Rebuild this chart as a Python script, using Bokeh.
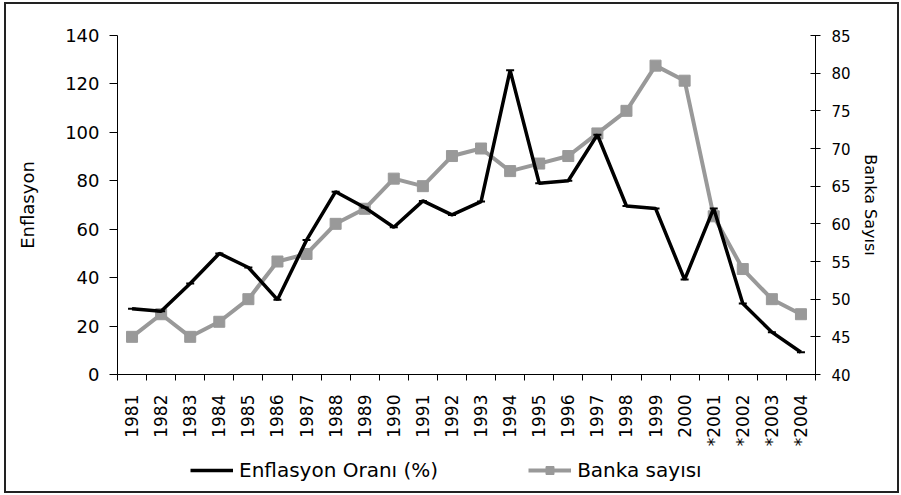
import math
from bokeh.plotting import figure
from bokeh.layouts import column
from bokeh.models import Range1d, LinearAxis, FixedTicker, Legend, LegendItem, ColumnDataSource
from bokeh.embed import file_html
from bokeh.resources import INLINE

years = ["1981", "1982", "1983", "1984", "1985", "1986", "1987", "1988", "1989", "1990",
         "1991", "1992", "1993", "1994", "1995", "1996", "1997", "1998", "1999", "2000",
         "*2001", "*2002", "*2003", "*2004"]
inflation = [27.2, 26.1, 37.6, 50.0, 44.2, 30.9, 55.5, 75.5, 69.0, 60.8,
             71.7, 65.9, 71.4, 125.6, 79.0, 80.0, 99.0, 69.6, 68.6, 39.2,
             68.6, 29.3, 17.5, 9.2]
banks = [45, 48, 45, 47, 50, 55, 56, 60, 62, 66,
         65, 69, 70, 67, 68, 69, 72, 75, 81, 79,
         61, 54, 50, 48]
left_ticks = [0, 20, 40, 60, 80, 100, 120, 140]
right_ticks = [40, 45, 50, 55, 60, 65, 70, 75, 80, 85]
series_names = ["Enflasyon Oranı (%)", "Banka sayısı"]

FONT = "DejaVu Sans"
GRAY = "#999999"
W = 891

n = len(years)
xpos = [i + 0.5 for i in range(n)]
src = ColumnDataSource(dict(x=xpos, infl=inflation, bank=banks))

p = figure(width=W, height=445, output_backend="svg", toolbar_location=None,
           x_range=Range1d(0, n), y_range=Range1d(left_ticks[0], left_ticks[-1]),
           min_border_left=111, min_border_right=82, min_border_top=31, min_border_bottom=75)
p.outline_line_color = None
p.xgrid.visible = False
p.ygrid.visible = False
p.background_fill_color = "white"
p.border_fill_color = "white"

p.extra_y_ranges = {"right": Range1d(right_ticks[0], right_ticks[-1])}

# left axis
ya = p.yaxis[0]
ya.ticker = FixedTicker(ticks=left_ticks)
ya.axis_label = "Enflasyon"
ya.axis_label_text_font = FONT
ya.axis_label_text_font_size = "18px"
ya.axis_label_text_font_style = "normal"
ya.axis_label_text_color = "black"
ya.axis_label_standoff = 24
ya.major_label_text_font = FONT
ya.major_label_text_font_size = "18px"
ya.major_label_text_color = "black"
ya.major_tick_out = 8
ya.major_tick_in = 0
ya.minor_tick_line_color = None
ya.major_label_standoff = 10
ya.axis_line_color = "black"
ya.major_tick_line_color = "black"

# right axis
ra = LinearAxis(y_range_name="right", ticker=FixedTicker(ticks=right_ticks))
ra.axis_label = "Banka Sayısı"
ra.axis_label_text_font = FONT
ra.axis_label_text_font_size = "16px"
ra.axis_label_text_font_style = "normal"
ra.axis_label_text_color = "black"
ra.axis_label_standoff = 7
ra.major_label_text_font = FONT
ra.major_label_text_font_size = "15px"
ra.major_label_text_color = "black"
ra.major_tick_out = 5
ra.major_tick_in = 5
ra.minor_tick_line_color = None
ra.major_label_standoff = 11
ra.axis_line_color = "black"
ra.major_tick_line_color = "black"
p.add_layout(ra, "right")

# x axis
xa = p.xaxis[0]
xa.ticker = FixedTicker(ticks=xpos, minor_ticks=list(range(n + 1)))
xa.major_label_overrides = {x: y for x, y in zip(xpos, years)}
xa.major_label_orientation = math.pi / 2
xa.major_label_text_font = FONT
xa.major_label_text_font_size = "17px"
xa.major_label_text_color = "black"
xa.major_tick_line_color = None
xa.major_tick_out = 0
xa.major_tick_in = 0
xa.minor_tick_out = 6
xa.minor_tick_in = 0
xa.minor_tick_line_color = "black"
xa.major_label_standoff = 14
xa.axis_line_color = "black"

# series
p.line("x", "bank", source=src, y_range_name="right", line_color=GRAY, line_width=4)
p.scatter("x", "bank", source=src, y_range_name="right", marker="square",
          size=11, fill_color=GRAY, line_color=GRAY)
p.line("x", "infl", source=src, line_color="black", line_width=3.5)
p.scatter("x", "infl", source=src, marker="dash", size=8, line_color="black", line_width=2)

# legend strip (separate figure so the legend is not clipped); its own
# ranges keep the series out of view so that only the legend shows
lp = figure(width=W, height=42, output_backend="svg", toolbar_location=None,
            x_range=Range1d(-1000, -999), y_range=Range1d(-1000, -999),
            min_border=0, x_axis_location=None, y_axis_location=None)
lp.outline_line_color = None
lp.xgrid.visible = False
lp.ygrid.visible = False
lp.border_fill_color = "white"
l1 = lp.line("x", "infl", source=src, line_color="black", line_width=3.5)
m1 = lp.scatter("x", "infl", source=src, marker="dash", size=8, line_color="black", line_width=2)
l2 = lp.line("x", "bank", source=src, line_color=GRAY, line_width=4)
m2 = lp.scatter("x", "bank", source=src, marker="square", size=11, fill_color=GRAY, line_color=GRAY)

legend = Legend(items=[LegendItem(label=series_names[0], renderers=[l1, m1]),
                       LegendItem(label=series_names[1], renderers=[l2, m2])],
                orientation="horizontal", location=(73, 9))
legend.label_text_font = FONT
legend.label_text_font_size = "20px"
legend.label_text_color = "black"
legend.glyph_width = 43
legend.label_standoff = 6
legend.spacing = 90
legend.padding = 0
legend.margin = 0
legend.border_line_color = None
legend.background_fill_alpha = 0
lp.add_layout(legend, "center")

layout = column(p, lp, spacing=0)
layout.styles = {"border": "2px solid #222222", "margin-left": "4px", "margin-top": "2px"}

open("out.html", "w").write(file_html(layout, INLINE))
